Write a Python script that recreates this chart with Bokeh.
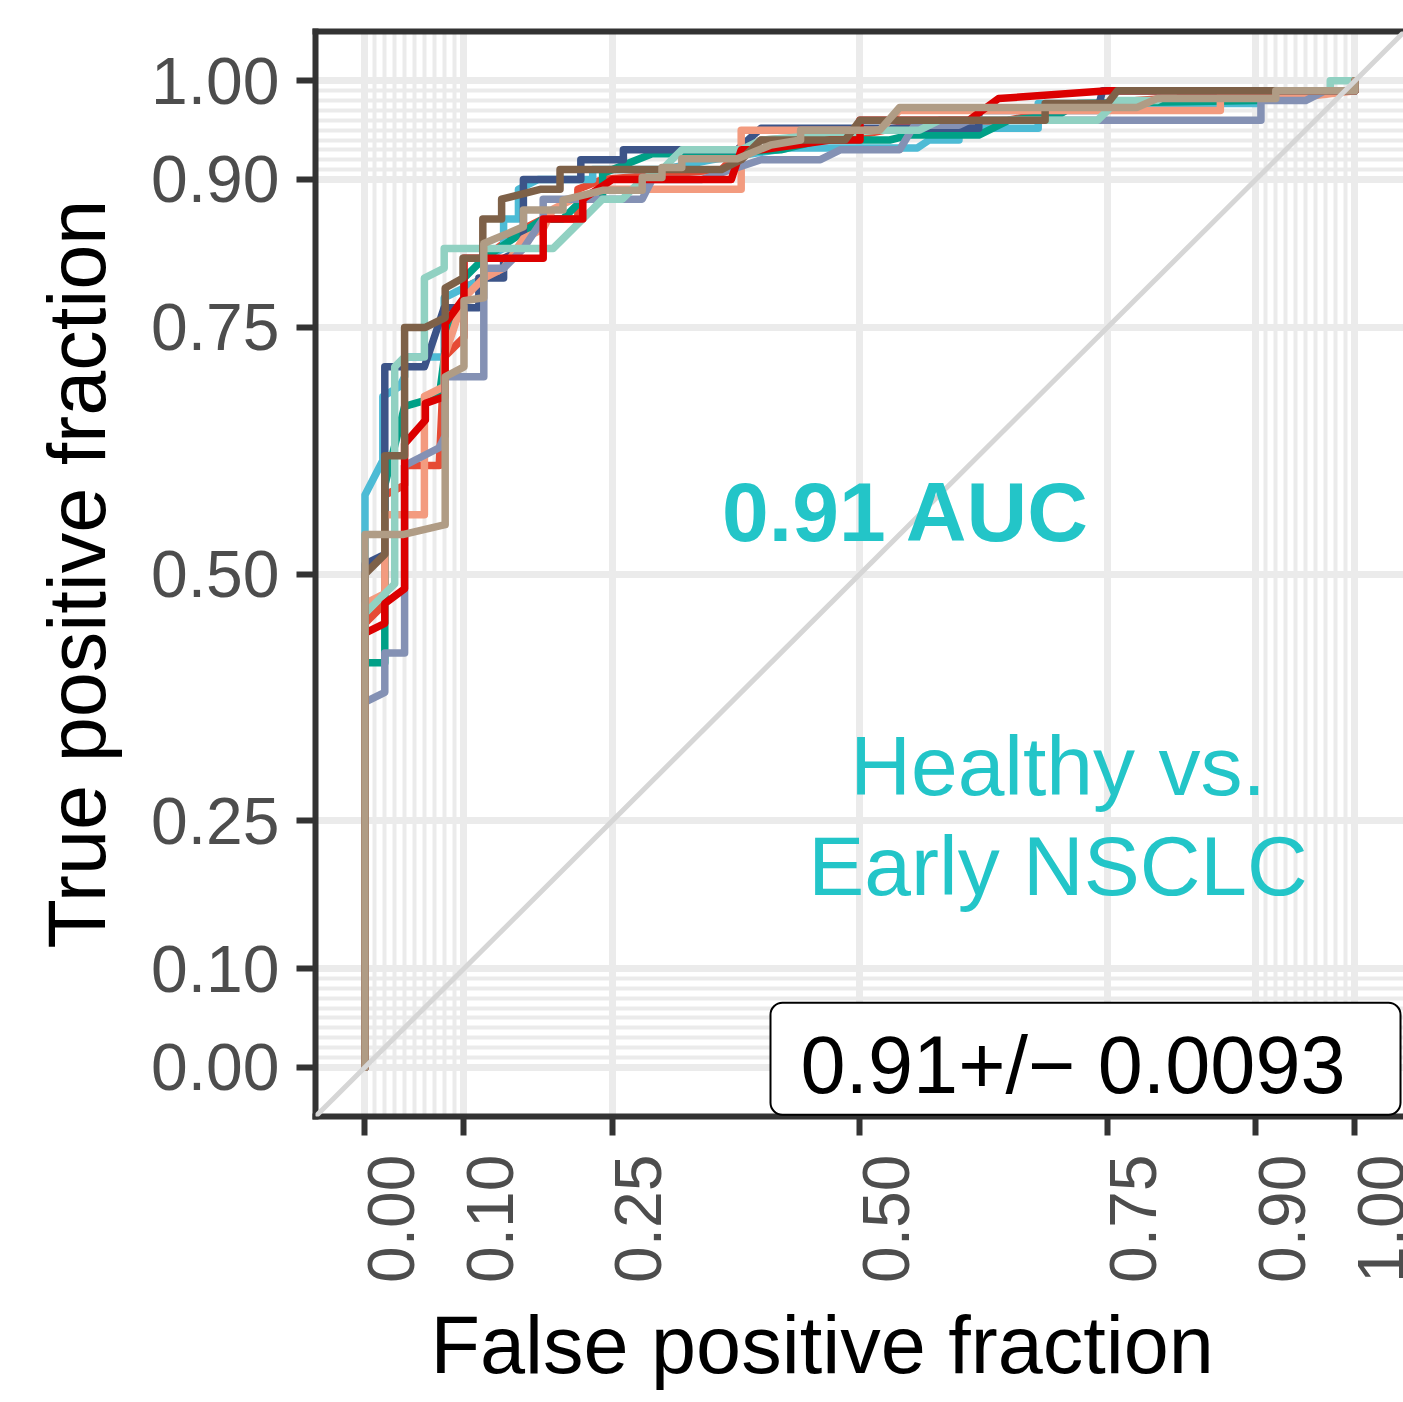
from math import pi

from bokeh.embed import file_html
from bokeh.models import (FixedTicker, Label, LinearAxis, NumeralTickFormatter, Range1d, Slope,
                          Title)
from bokeh.plotting import figure
from bokeh.resources import INLINE

# ---- axis breaks (plotROC style) ----
major_ticks = [0.0, 0.1, 0.25, 0.5, 0.75, 0.9, 1.0]
minor_ticks = [0.01, 0.02, 0.03, 0.04, 0.05, 0.06, 0.07, 0.08, 0.09,
               0.91, 0.92, 0.93, 0.94, 0.95, 0.96, 0.97, 0.98, 0.99]

# ---- ROC curves of the ten resamples (false / true positive fraction) ----
fpr_1 = [0, 0, 0.02, 0.02, 0.04, 0.04, 0.075, 0.08, 0.10, 0.10, 0.12, 0.12, 0.16, 0.18, 0.215,
         0.215, 0.24, 0.36, 0.38, 0.40, 0.50, 0.55, 0.65, 0.70, 0.78, 0.85, 0.90, 1.0, 1.0]
tpr_1 = [0, 0.45, 0.47, 0.58, 0.59, 0.61, 0.61, 0.72, 0.74, 0.79, 0.80, 0.82, 0.85, 0.86, 0.86,
         0.89, 0.90, 0.91, 0.93, 0.94, 0.945, 0.955, 0.96, 0.97, 0.98, 0.985, 0.99, 0.99, 1.0]

fpr_2 = [0, 0, 0.018, 0.018, 0.035, 0.04, 0.04, 0.08, 0.08, 0.10, 0.12, 0.12, 0.14, 0.14, 0.155,
         0.155, 0.175, 0.23, 0.23, 0.30, 0.35, 0.43, 0.558, 0.57, 0.60, 0.60, 0.68, 0.68, 0.90,
         0.92, 1.0, 1.0]
tpr_2 = [0, 0.58, 0.615, 0.68, 0.69, 0.70, 0.72, 0.72, 0.78, 0.79, 0.80, 0.82, 0.83, 0.86, 0.86,
         0.89, 0.90, 0.90, 0.91, 0.91, 0.92, 0.932, 0.932, 0.94, 0.94, 0.952, 0.952, 0.977, 0.977,
         0.99, 0.99, 1.0]

fpr_3 = [0, 0, 0.02, 0.02, 0.04, 0.075, 0.085, 0.10, 0.10, 0.12, 0.15, 0.18, 0.20, 0.22, 0.24,
         0.24, 0.29, 0.34, 0.42, 0.46, 0.53, 0.55, 0.62, 0.65, 0.70, 0.72, 0.90, 0.92, 1.0, 1.0]
tpr_3 = [0, 0.41, 0.41, 0.59, 0.67, 0.68, 0.757, 0.77, 0.80, 0.82, 0.84, 0.86, 0.86, 0.88, 0.88,
         0.906, 0.926, 0.926, 0.93, 0.94, 0.94, 0.945, 0.945, 0.96, 0.965, 0.977, 0.98, 0.99,
         0.99, 1.0]

fpr_4 = [0, 0, 0.02, 0.02, 0.06, 0.08, 0.115, 0.115, 0.14, 0.14, 0.16, 0.16, 0.218, 0.218, 0.261,
         0.261, 0.376, 0.40, 0.62, 0.62, 0.74, 0.745, 1.0, 1.0]
tpr_4 = [0, 0.51, 0.52, 0.71, 0.71, 0.77, 0.77, 0.80, 0.80, 0.82, 0.83, 0.90, 0.90, 0.92, 0.92,
         0.93, 0.93, 0.952, 0.952, 0.97, 0.97, 0.99, 0.99, 1.0]

fpr_5 = [0, 0, 0.02, 0.02, 0.06, 0.06, 0.08, 0.08, 0.10, 0.12, 0.14, 0.16, 0.18, 0.19, 0.21,
         0.24, 0.38, 0.38, 0.52, 0.54, 0.864, 0.864, 0.96, 1.0, 1.0]
tpr_5 = [0, 0.47, 0.48, 0.56, 0.56, 0.68, 0.69, 0.72, 0.78, 0.80, 0.81, 0.84, 0.85, 0.87, 0.88,
         0.89, 0.89, 0.95, 0.95, 0.97, 0.97, 0.985, 0.985, 0.99, 1.0]

fpr_6 = [0, 0, 0.02, 0.02, 0.04, 0.04, 0.075, 0.081, 0.081, 0.12, 0.12, 0.14, 0.16, 0.18, 0.18,
         0.28, 0.29, 0.34, 0.40, 0.46, 0.48, 0.54, 0.555, 0.60, 0.61, 0.905, 0.905, 0.95, 0.97,
         1.0, 1.0]
tpr_6 = [0, 0.37, 0.38, 0.42, 0.42, 0.61, 0.628, 0.64, 0.70, 0.70, 0.81, 0.81, 0.83, 0.86, 0.88,
         0.88, 0.90, 0.90, 0.92, 0.92, 0.93, 0.93, 0.955, 0.955, 0.96, 0.96, 0.98, 0.98, 0.99,
         0.99, 1.0]

fpr_7 = [0, 0, 0.03, 0.03, 0.04, 0.06, 0.06, 0.08, 0.08, 0.19, 0.23, 0.24, 0.26, 0.28, 0.30,
         0.32, 0.38, 0.40, 0.52, 0.56, 0.58, 0.74, 0.76, 0.80, 0.82, 0.975, 0.975, 1.0]
tpr_7 = [0, 0.46, 0.49, 0.71, 0.72, 0.72, 0.80, 0.81, 0.83, 0.83, 0.87, 0.88, 0.88, 0.90, 0.91,
         0.93, 0.93, 0.94, 0.95, 0.95, 0.96, 0.96, 0.98, 0.98, 0.99, 0.99, 1.0, 1.0]

fpr_8 = [0, 0, 0.02, 0.02, 0.04, 0.04, 0.061, 0.061, 0.081, 0.081, 0.10, 0.10, 0.18, 0.18, 0.22,
         0.22, 0.25, 0.37, 0.38, 0.40, 0.47, 0.50, 0.50, 0.61, 0.64, 0.75, 1.0, 1.0]
tpr_8 = [0, 0.44, 0.45, 0.47, 0.485, 0.632, 0.656, 0.673, 0.68, 0.754, 0.78, 0.82, 0.82, 0.86,
         0.86, 0.88, 0.90, 0.90, 0.93, 0.93, 0.94, 0.94, 0.96, 0.96, 0.982, 0.99, 0.99, 1.0]

fpr_9 = [0, 0, 0.02, 0.02, 0.04, 0.04, 0.061, 0.081, 0.081, 0.099, 0.099, 0.119, 0.119, 0.138,
         0.138, 0.177, 0.197, 0.197, 0.36, 0.38, 0.40, 0.485, 0.50, 0.687, 0.687, 0.75, 0.76,
         1.0, 1.0]
tpr_9 = [0, 0.50, 0.52, 0.62, 0.62, 0.75, 0.75, 0.76, 0.79, 0.80, 0.82, 0.82, 0.86, 0.86, 0.88,
         0.89, 0.89, 0.91, 0.91, 0.92, 0.94, 0.94, 0.96, 0.96, 0.977, 0.977, 0.99, 0.99, 1.0]

fpr_10 = [0, 0, 0.038, 0.081, 0.081, 0.10, 0.10, 0.12, 0.12, 0.16, 0.16, 0.20, 0.20, 0.24, 0.28,
          0.28, 0.30, 0.30, 0.32, 0.32, 0.376, 0.41, 0.44, 0.44, 0.52, 0.54, 0.78, 0.80, 0.92,
          0.92, 1.0, 1.0]
tpr_10 = [0, 0.54, 0.54, 0.55, 0.70, 0.71, 0.777, 0.78, 0.835, 0.852, 0.869, 0.869, 0.879, 0.889,
          0.889, 0.902, 0.902, 0.912, 0.912, 0.921, 0.921, 0.935, 0.94, 0.95, 0.95, 0.973, 0.973,
          0.982, 0.982, 0.99, 0.99, 1.0]

curves = [(fpr_1, tpr_1), (fpr_2, tpr_2), (fpr_3, tpr_3), (fpr_4, tpr_4), (fpr_5, tpr_5),
          (fpr_6, tpr_6), (fpr_7, tpr_7), (fpr_8, tpr_8), (fpr_9, tpr_9), (fpr_10, tpr_10)]
npg_colors = ["#E64B35", "#4DBBD5", "#00A087", "#3C5488", "#F39B7F",
              "#8491B4", "#91D1C2", "#DC0000", "#7E6148", "#B09C85"]

auc_text = "0.91 AUC"
auc_sd_text = "0.91+/\u2212 0.0093"
comparison_lines = ["Healthy vs.", "Early NSCLC"]
x_title = "False positive fraction"
y_title = "True positive fraction"

FONT = "Liberation Sans"
TEAL = "#23C5C8"
DARK = "#333333"
LABEL_GREY = "#4D4D4D"

X_START, X_END = -0.05, 1.049
LABEL_SHIFT = 0.026  # x tick labels sit just right of their ticks

p = figure(width=1403, height=1402,
           x_range=Range1d(X_START, X_END), y_range=Range1d(-0.05, 1.05),
           output_backend="svg", toolbar_location=None,
           min_border_left=315, min_border_right=0, min_border_top=31, min_border_bottom=286)
p.outline_line_color = None
p.background_fill_color = "white"
p.border_fill_color = "white"
p.extra_x_ranges = {"xlabels": Range1d(X_START - LABEL_SHIFT, X_END - LABEL_SHIFT)}

ticker = FixedTicker(ticks=major_ticks, minor_ticks=minor_ticks)

# grid: major + fine minor lines near 0 and 1
for g in (p.xgrid, p.ygrid):
    g.ticker = ticker
    g.grid_line_color = "#EBEBEB"
    g.grid_line_width = 7
    g.minor_grid_line_color = "#EBEBEB"
    g.minor_grid_line_width = 4

# y axis
ya = p.yaxis[0]
ya.ticker = ticker
ya.formatter = NumeralTickFormatter(format="0.00")
ya.major_label_text_font = FONT
ya.major_label_text_font_size = "66px"
ya.major_label_text_color = LABEL_GREY
ya.major_label_standoff = 17
ya.major_tick_out = 19
ya.major_tick_in = 0
ya.major_tick_line_width = 6
ya.major_tick_line_color = DARK
ya.minor_tick_line_color = None
ya.axis_line_color = DARK
ya.axis_line_width = 6
ya.axis_line_cap = "square"
ya.axis_label = y_title
ya.axis_label_text_font = FONT
ya.axis_label_text_font_size = "81px"
ya.axis_label_text_font_style = "normal"
ya.axis_label_text_color = "black"
ya.axis_label_standoff = 26

# x axis: line and tick marks
xa = p.xaxis[0]
xa.ticker = ticker
xa.major_label_text_color = None
xa.major_label_text_font_size = "1px"
xa.major_label_standoff = 0
xa.major_tick_out = 19
xa.major_tick_in = 0
xa.major_tick_line_width = 6
xa.major_tick_line_color = DARK
xa.minor_tick_line_color = None
xa.axis_line_color = DARK
xa.axis_line_width = 6
xa.axis_line_cap = "square"

# x axis: rotated tick labels
xlab = LinearAxis(x_range_name="xlabels", ticker=FixedTicker(ticks=major_ticks),
                  formatter=NumeralTickFormatter(format="0.00"),
                  major_label_orientation=pi / 2, major_label_standoff=19,
                  major_label_text_font=FONT, major_label_text_font_size="66px",
                  major_label_text_color=LABEL_GREY,
                  major_tick_line_color=None, major_tick_out=0, major_tick_in=0,
                  minor_tick_line_color=None, axis_line_color=None)
p.add_layout(xlab, "below")

# x axis title
p.add_layout(Title(text=x_title, align="left", offset=115, standoff=25,
                   text_font=FONT, text_font_size="81px", text_font_style="normal",
                   text_color="black"), "below")

# top border of the panel
top = LinearAxis(ticker=ticker, major_tick_line_color=None, minor_tick_line_color=None,
                 major_label_text_color=None, major_label_text_font_size="1px",
                 axis_line_color=DARK, axis_line_width=6, axis_line_cap="square")
p.add_layout(top, "above")

# ROC curves
for (fx, fy), col in zip(curves, npg_colors):
    p.line(fx, fy, line_color=col, line_width=7.5, line_join="round", line_cap="round")

# chance diagonal
p.add_layout(Slope(gradient=1, y_intercept=0, line_color="#D6D6D6", line_width=5))

# annotations
p.add_layout(Label(x=0.547, y=0.563, text=auc_text, text_align="center",
                   text_baseline="alphabetic", text_font=FONT, text_font_style="bold",
                   text_font_size="84px", text_color=TEAL))
for line_text, ypos in zip(comparison_lines, [0.305, 0.204]):
    p.add_layout(Label(x=0.70, y=ypos, text=line_text, text_align="center",
                       text_baseline="alphabetic", text_font=FONT,
                       text_font_size="84px", text_color=TEAL))

p.add_layout(Label(x=0.4096, y=0.0086, text=auc_sd_text, text_align="left",
                   text_baseline="alphabetic", text_font=FONT, text_font_size="81px",
                   text_color="black", background_fill_color="white",
                   border_line_color="black", border_line_width=2, border_radius=12,
                   padding=dict(left=30, right=55, top=17, bottom=5)))

open("out.html", "w").write(file_html(p, INLINE))
